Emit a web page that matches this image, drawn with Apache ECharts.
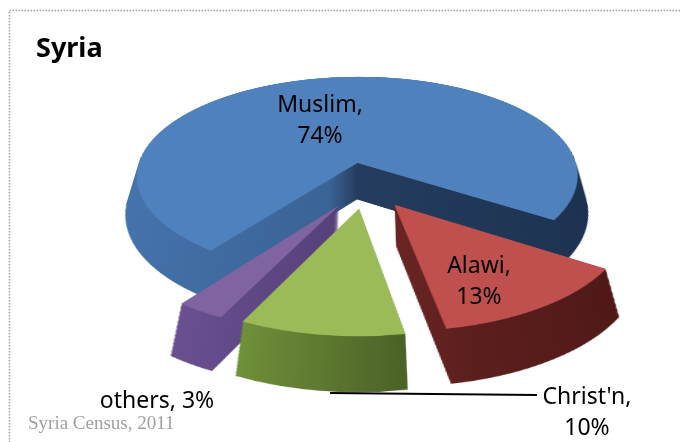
<!DOCTYPE html>
<html>
<head>
<meta charset="utf-8">
<script src="https://cdn.jsdelivr.net/npm/echarts@6/dist/echarts.min.js"></script>
<style>
html, body { margin:0; padding:0; width:681px; height:442px; overflow:hidden; background:#ffffff; }
#pie { position:absolute; left:0; top:-215px; width:681px; height:820px;
  transform-origin:366px 400px; transform:perspective(1480px) rotateX(62.6deg); }
#txt { position:absolute; left:0; top:0; width:681px; height:442px; z-index:2; }
</style>
</head>
<body>
<div id="pie"></div>
<div id="txt"></div>
<script>
// ---- data ----
const titleText = 'Syria';
const categories = ['Muslim', 'Alawi', "Christ'n", 'others'];
const values = [74, 13, 10, 3];
const labelJoin = ['\n', '\n', '\n', ' '];
const sourceText = 'Syria Census, 2011';

// ---- styling / geometry (pie plane is tilted with a CSS 3D transform) ----
const CX = 366, CY = 400;
const R = 225;
const EXPLODE = 50;
const DEPTH = 80;
const STEP = 2;
const START = 233.4;
const topColors = ['#4f81bd', '#c0504d', '#9bbb59', '#8064a2'];
function lg(stops) {
  return { type: 'linear', x: 0, y: 0, x2: 1, y2: 0,
    colorStops: stops.map(s => ({ offset: s[0], color: s[1] })) };
}
const sideColors = [
  lg([[0, '#4573ac'], [0.44, '#3a6396'], [0.5, '#243d5f'], [1, '#1d3250']]),
  lg([[0, '#6a2523'], [0.3, '#5c1f1d'], [1, '#4f1918']]),
  lg([[0, '#70903a'], [1, '#4b6126']]),
  lg([[0, '#6a5090'], [0.5, '#5f4784'], [1, '#55407a']])
];

function layer(off, colors, z) {
  return {
    type: 'pie', radius: R, center: [CX, CY + off], startAngle: START, clockwise: true,
    selectedMode: 'multiple', selectedOffset: EXPLODE, silent: true, animation: false,
    label: { show: false }, labelLine: { show: false },
    emphasis: { disabled: true }, z: z,
    itemStyle: { borderWidth: 0 },
    select: { itemStyle: { borderWidth: 0 } },
    data: categories.map((c, i) => ({
      name: c, value: values[i], selected: true,
      itemStyle: { color: colors[i], borderWidth: 0 },
      select: { itemStyle: { color: colors[i], borderWidth: 0 } }
    }))
  };
}
const series = [];
let z = 1;
for (let off = DEPTH; off > 0; off -= STEP) series.push(layer(off, sideColors, z++));
series.push(layer(0, topColors, z++));

const pie = echarts.init(document.getElementById('pie'), null, { renderer: 'canvas' });
pie.setOption({ animation: false, series: series });

// ---- text layer ----
const labelFont = '23px "Noto Sans"';
const labelPos = [[320, 106], [479, 267], [587, 398], [157, 402]];
const labels = categories.map((c, i) => ({
  type: 'text', silent: true,
  style: {
    text: c + ',' + labelJoin[i] + values[i] + '%',
    x: labelPos[i][0], y: labelPos[i][1] - 16,
    align: 'center', verticalAlign: 'top',
    font: labelFont, fill: '#000', lineHeight: 31
  }
}));
const txt = echarts.init(document.getElementById('txt'), null, { renderer: 'canvas' });
txt.setOption({
  animation: false,
  title: {
    text: titleText, left: 31, top: 31,
    textStyle: { fontFamily: 'Noto Sans', fontWeight: 'bold', fontSize: 27, color: '#000' }
  },
  graphic: [
    { type: 'rect', silent: true, shape: { x: 9.5, y: 10.5, width: 700, height: 500 },
      style: { fill: 'none', stroke: '#a0a0a0', lineWidth: 1.5, lineDash: [1.5, 1.5] } },
    { type: 'line', silent: true, shape: { x1: 330, y1: 393, x2: 537, y2: 395 },
      style: { stroke: '#000', lineWidth: 2 } },
    { type: 'text', silent: true,
      style: { text: sourceText, x: 28, y: 434, verticalAlign: 'bottom',
        font: '19px "Liberation Serif"', fill: '#a0a0a0' } }
  ].concat(labels)
});
</script>
</body>
</html>
